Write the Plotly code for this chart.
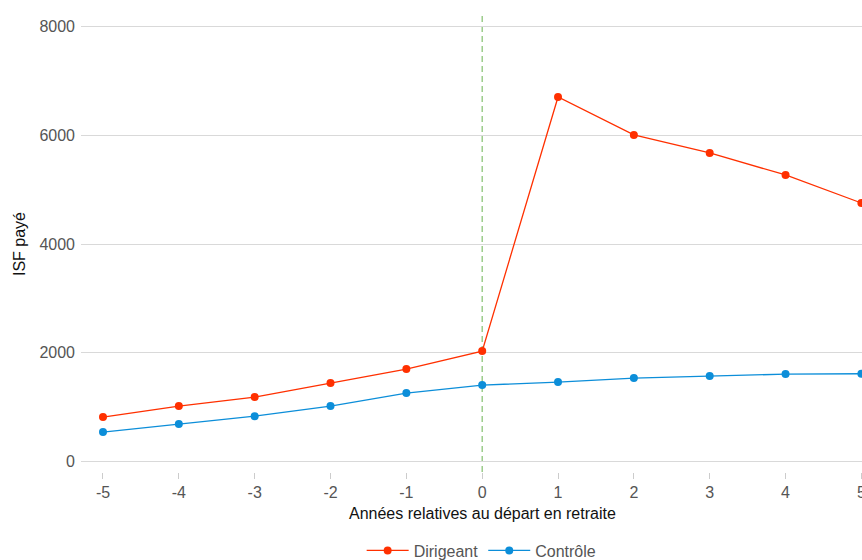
import plotly.graph_objects as go

years = [-5, -4, -3, -2, -1, 0, 1, 2, 3, 4, 5]
year_labels = ["-5", "-4", "-3", "-2", "-1", "0", "1", "2", "3", "4", "5"]
dirigeant = [811, 1014, 1180, 1438, 1696, 2027, 6709, 6009, 5677, 5272, 4755]
controle = [535, 682, 829, 1014, 1253, 1401, 1456, 1530, 1567, 1603, 1610]
y_ticks = [0, 2000, 4000, 6000, 8000]

RED = "#FF3000"
BLUE = "#0C8ED9"

fig = go.Figure()
fig.add_trace(go.Scatter(x=years, y=dirigeant, mode="lines+markers", name="Dirigeant",
                         line=dict(color=RED, width=1.3), marker=dict(color=RED, size=8)))
fig.add_trace(go.Scatter(x=years, y=controle, mode="lines+markers", name="Contrôle",
                         line=dict(color=BLUE, width=1.3), marker=dict(color=BLUE, size=8)))

fig.add_shape(type="line", xref="x", yref="paper", x0=0, x1=0, y0=0, y1=1,
              line=dict(color="#8CC47A", width=1.3, dash="6px,4px"), layer="below")

fig.add_annotation(text="Années relatives au départ en retraite", xref="x", yref="paper",
                   x=0, y=-0.09, yanchor="middle", showarrow=False,
                   font=dict(size=16, color="#111"))

fig.update_layout(
    width=862, height=560,
    margin=dict(l=81, r=0, t=16, b=88, autoexpand=False),
    paper_bgcolor="white", plot_bgcolor="white",
    font=dict(family="Liberation Sans, Arial, sans-serif", size=16, color="#555"),
    xaxis=dict(range=[-5.29, 5.008], tickvals=years, ticktext=year_labels, showgrid=False,
               zeroline=False, ticks="outside", ticklen=6, tickcolor="#ccc", showline=False,
               ticklabeloverflow="allow", tickfont=dict(size=16, color="#555")),
    yaxis=dict(range=[-200, 8200], tickvals=y_ticks, showgrid=True, gridcolor="#d9d9d9",
               gridwidth=1, zeroline=False, ticks="", tickfont=dict(size=16, color="#555"),
               ticklabelstandoff=5,
               title=dict(text="ISF payé", font=dict(size=16, color="#111"), standoff=9)),
    legend=dict(orientation="h", x=0.513, xanchor="center", yref="container", y=0.017,
                yanchor="middle", font=dict(size=16, color="#555"), itemwidth=42),
    showlegend=True,
)

fig.write_html("out.html", config={"displayModeBar": False},
               post_script="document.body.style.margin='0';document.body.style.overflow='hidden';")
